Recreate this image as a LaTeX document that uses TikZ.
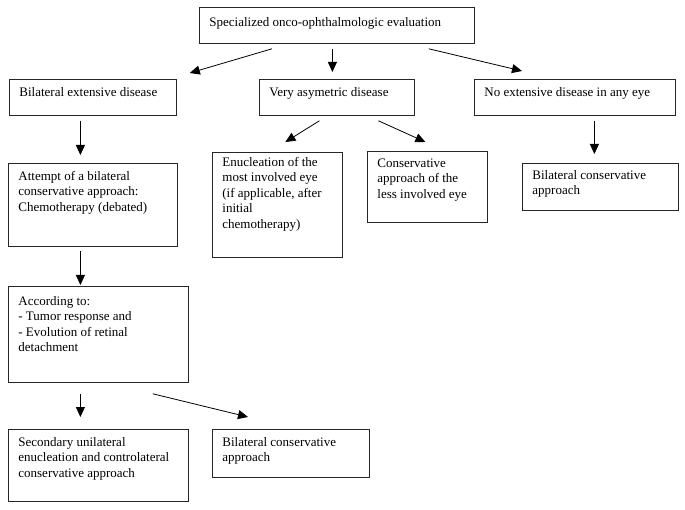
\documentclass[tikz,border=0pt]{standalone}
\usepackage{fontspec}
\setmainfont{Liberation Serif}
\usetikzlibrary{arrows.meta,calc}

% text block of a box: width, height, gap above first line, text
\newcommand{\stagetext}[4]{\parbox[t][#2][t]{#1}{\vspace*{#3}\raggedright\strut #4}}

\begin{document}
\begin{tikzpicture}[x=1pt,y=-1pt,
    stage/.style={draw=black!85,line width=0.8pt,anchor=north west,inner xsep=10pt,inner ysep=0pt,
        font=\fontsize{13}{15.5}\selectfont},
    flow/.style={line width=0.8pt,-{Triangle[length=10pt,width=9pt]}}]
        \useasboundingbox (0,0) rectangle (685,510);

        \node[stage] at (199,7) (eval) {\stagetext{255pt}{36pt}{8pt}{Specialized onco-ophthalmologic evaluation}};
        \node[stage] at (9,79) (bilat) {\stagetext{147pt}{36pt}{6pt}{Bilateral extensive disease}};
        \node[stage] at (259,79) (asym) {\stagetext{135pt}{36pt}{6pt}{Very asymetric disease}};
        \node[stage] at (474,79) (noext) {\stagetext{181pt}{36pt}{6pt}{No extensive disease in any eye}};
        \node[stage] at (8,163) (attempt) {\stagetext{149pt}{83pt}{6pt}{Attempt of a bilateral\\ conservative approach:\\ Chemotherapy (debated)}};
        \node[stage] at (212,152) (enuc) {\stagetext{110pt}{105pt}{3pt}{Enucleation of the\\ most involved eye\\ (if applicable, after\\ initial\\ chemotherapy)}};
        \node[stage] at (367,151) (cons) {\stagetext{100pt}{71pt}{5pt}{Conservative\\ approach of the\\ less involved eye}};
        \node[stage] at (522,163) (bilatR) {\stagetext{136pt}{47pt}{5pt}{Bilateral conservative\\ approach}};
        \node[stage] at (8,286) (accord) {\stagetext{160pt}{96pt}{8pt}{According to:\\ - Tumor response and\\ - Evolution of retinal\\ detachment}};
        \node[stage] at (8,429) (second) {\stagetext{160pt}{72pt}{6pt}{Secondary unilateral\\ enucleation and controlateral\\ conservative approach}};
        \node[stage] at (212,429) (bilatB) {\stagetext{137pt}{48pt}{6pt}{Bilateral conservative\\ approach}};

        \path[flow]
            ($(eval.south west)+(73,5)$) edge ($(bilat.north east)+(13,-6)$)
            ($(eval.south)+(-4.5,5)$) edge ($(asym.north)+(-4.5,-7)$)
            ($(eval.south east)+(-46,5)$) edge ($(noext.north west)+(48,-8)$)
            ($(bilat.south)+(-12.5,5)$) edge ($(attempt.north)+(-12.5,-8)$)
            ($(attempt.south)+(-12.5,4)$) edge ($(accord.north)+(-18,-1)$)
            ($(accord.south)+(-18,11)$) edge ($(second.north)+(-18,-12)$)
            ($(accord.south east)+(-36,11)$) edge ($(bilatB.north west)+(36,-12)$)
            ($(asym.south)+(-17.5,5)$) edge ($(enuc.north)+(8,-10)$)
            ($(asym.south)+(41.5,5)$) edge ($(cons.north)+(-2,-9)$)
            ($(noext.south)+(19.5,5)$) edge ($(bilatR.north)+(-6,-9)$)
            ;
        \end{tikzpicture}
\end{document}
